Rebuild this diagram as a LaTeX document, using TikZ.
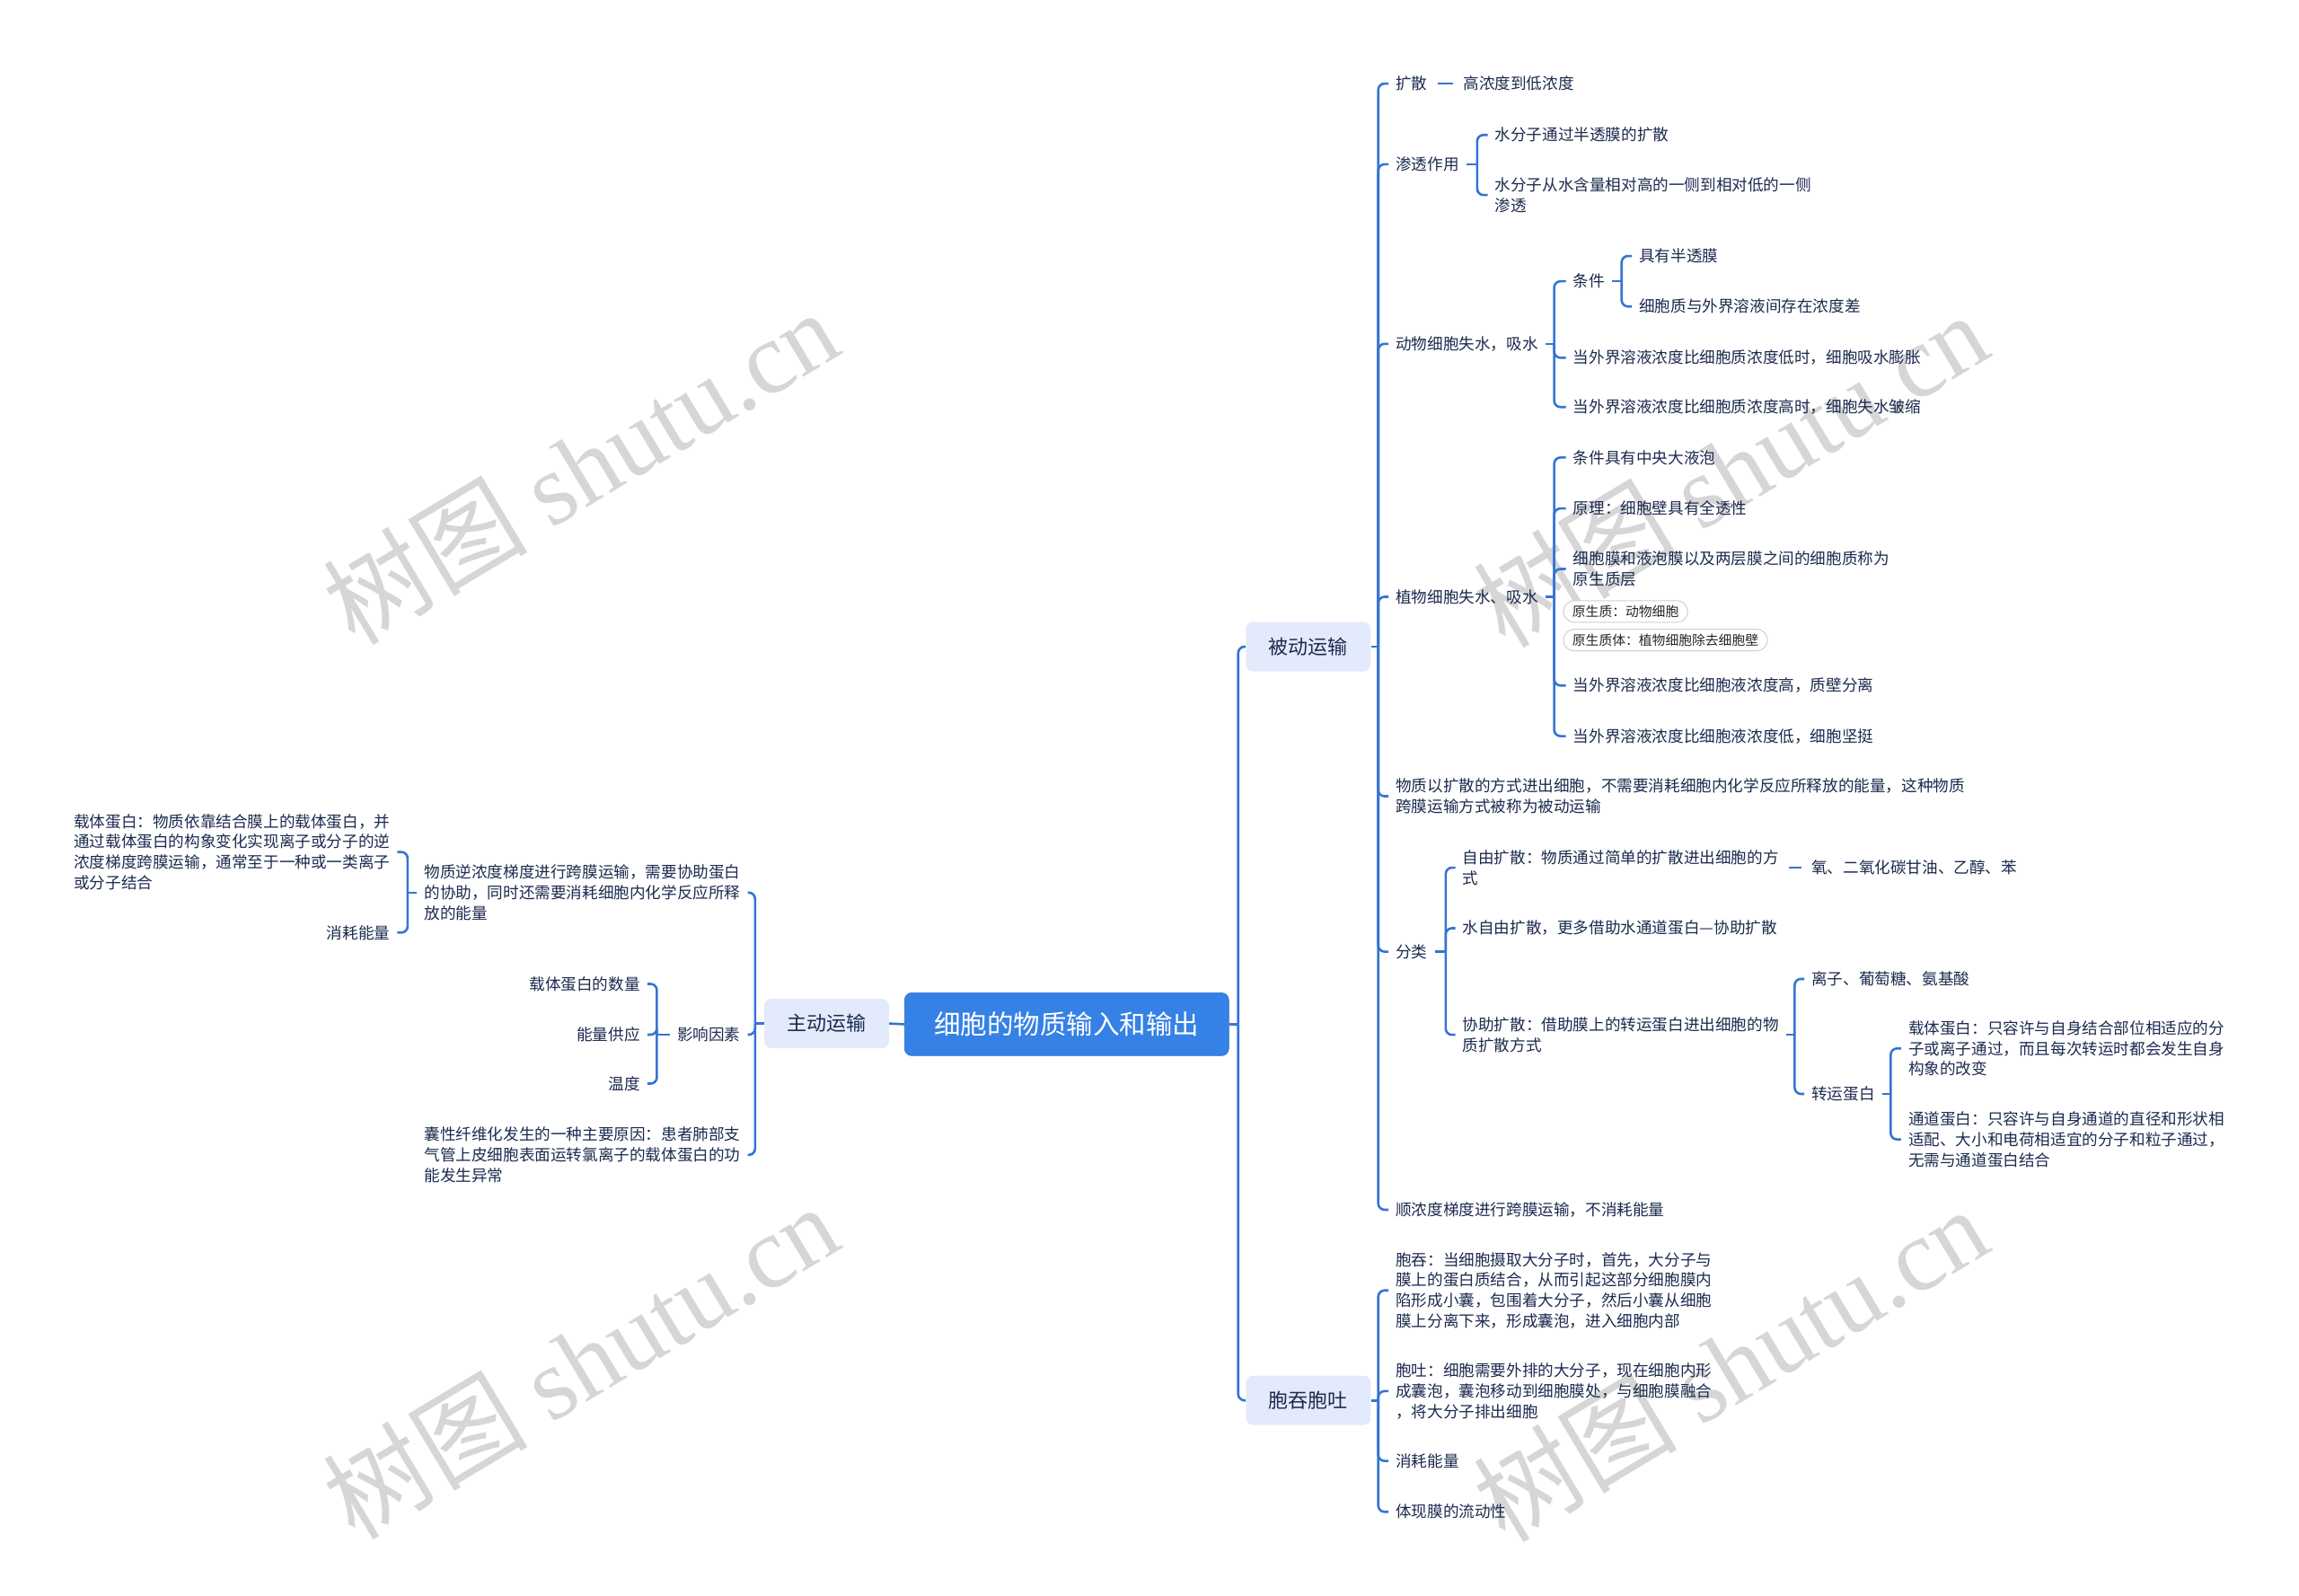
\documentclass[tikz,border=0pt]{standalone}
\usepackage{fontspec}
\setmainfont{Noto Sans CJK SC}
\newfontfamily\wmlatin{Liberation Serif}
\usepackage{xcolor}
\usepackage{tikz}
\usetikzlibrary{positioning,calc}

\definecolor{linkblue}{HTML}{3574D4}
\definecolor{rootblue}{HTML}{3581E6}
\definecolor{boxfill}{HTML}{E3EAFB}
\definecolor{txtnavy}{HTML}{1B2A4E}
\definecolor{pillgray}{HTML}{CFCFCF}
\definecolor{wmgray}{HTML}{D6D6D6}

\begin{document}
\begin{tikzpicture}[
    x=1.6327pt, y=-1.6327pt,
    txt/.style={inner xsep=8pt, inner ysep=2pt, text=txtnavy, align=left,
                font=\fontsize{17.6}{22.8}\selectfont},
    rt/.style={txt, anchor=west},
    lt/.style={txt, anchor=east},
    topbox/.style={fill=boxfill, rounded corners=8pt, text=txtnavy, inner sep=0pt,
                minimum width=139pt, minimum height=55pt, font=\fontsize{22}{26}\selectfont},
    rootbox/.style={fill=rootblue, draw=rootblue!85!black, line width=0.6pt, rounded corners=8pt,
                text=white, inner sep=0pt, minimum width=361pt, minimum height=70pt,
                font=\fontsize{29.5}{34}\selectfont},
    pill/.style={draw=pillgray, line width=1pt, rounded corners=12pt, fill=white, anchor=west,
                text=black!85, inner xsep=10pt, inner ysep=0pt, minimum height=24pt,
                font=\fontsize{14.8}{17}\selectfont},
    link/.style={draw=linkblue, line width=2.6pt, rounded corners=7pt},
    seg/.style={draw=linkblue, line width=2.6pt, shorten <=3pt, shorten >=3pt},
    wm/.style={text=wmgray, rotate=31, inner sep=0pt, font=\fontsize{114}{124}\selectfont}
]
\useasboundingbox (0,0) rectangle (1568,1088);

% ---- watermarks ----
\node[wm] (wm1) at (396,318)  {树图 {\wmlatin shutu.cn}};
\node[wm] (wm2) at (1180,320) {树图 {\wmlatin shutu.cn}};
\node[wm] (wm3) at (396,928)  {树图 {\wmlatin shutu.cn}};
\node[wm] (wm4) at (1180,930) {树图 {\wmlatin shutu.cn}};

% ---- root and first level ----
\node[rootbox] (root) at (727.5,698.5) {细胞的物质输入和输出};
\node[topbox] (zd) at (563.8,698) {主动运输};
\node[topbox] (bd) at (892.3,441) {被动运输};
\node[topbox] (tt) at (892.3,955) {胞吞胞吐};

\coordinate (rootj) at (844.5,698.5);
\draw[link] (root.east) -- (rootj);
\draw[link] (rootj) |- (bd.west);
\draw[link] (rootj) |- (tt.west);
\draw[link] (root.west) -- (zd.east);

% ---- passive transport ----
\node[rt] (ks)  at (947,57)      {扩散};
\node[rt] (ksa) at (993,57)      {高浓度到低浓度};
\node[rt] (st)  at (947,112)     {渗透作用};
\node[rt] (sta) at (1014.6,92)   {水分子通过半透膜的扩散};
\node[rt] (stb) at (1014.6,133)  {水分子从水含量相对高的一侧到相对低的一侧\\渗透};
\node[rt] (dw)  at (947,234.5)   {动物细胞失水，吸水};
\node[rt] (tj)  at (1068,191.8)  {条件};
\node[rt] (tja) at (1113,174.6)  {具有半透膜};
\node[rt] (tjb) at (1113,209)    {细胞质与外界溶液间存在浓度差};
\node[rt] (dwb) at (1068,244)    {当外界溶液浓度比细胞质浓度低时，细胞吸水膨胀};
\node[rt] (dwc) at (1068,277.6)  {当外界溶液浓度比细胞质浓度高时，细胞失水皱缩};
\node[rt] (zw)  at (947,407)     {植物细胞失水、吸水};
\node[rt] (zwa) at (1068,312)    {条件具有中央大液泡};
\node[rt] (zwb) at (1068,346.7)  {原理：细胞壁具有全透性};
\node[rt] (zwc) at (1068,388)    {细胞膜和液泡膜以及两层膜之间的细胞质称为\\原生质层};
\node[pill] (pl1) at (1066,417)  {原生质：动物细胞};
\node[pill] (pl2) at (1066,436.5) {原生质体：植物细胞除去细胞壁};
\node[rt] (zwd) at (1068,467.5)  {当外界溶液浓度比细胞液浓度高，质壁分离};
\node[rt] (zwe) at (1068,502)    {当外界溶液浓度比细胞液浓度低，细胞坚挺};
\node[rt] (dy)  at (947,543)     {物质以扩散的方式进出细胞，不需要消耗细胞内化学反应所释放的能量，这种物质\\跨膜运输方式被称为被动运输};
\node[rt] (fl)  at (947,649)     {分类};
\node[rt] (fla) at (992.6,591.7) {自由扩散：物质通过简单的扩散进出细胞的方\\式};
\node[rt] (flaa) at (1230.6,591.7) {氧、二氧化碳甘油、乙醇、苯};
\node[rt] (flb) at (992.6,633)   {水自由扩散，更多借助水通道蛋白—协助扩散};
\node[rt] (flc) at (992.6,705.7) {协助扩散：借助膜上的转运蛋白进出细胞的物\\质扩散方式};
\node[rt] (fca) at (1230.6,667.6) {离子、葡萄糖、氨基酸};
\node[rt] (fcb) at (1230.6,746)  {转运蛋白};
\node[rt] (fcba) at (1296.6,715) {载体蛋白：只容许与自身结合部位相适应的分\\子或离子通过，而且每次转运时都会发生自身\\构象的改变};
\node[rt] (fcbb) at (1296.6,777) {通道蛋白：只容许与自身通道的直径和形状相\\适配、大小和电荷相适宜的分子和粒子通过，\\无需与通道蛋白结合};
\node[rt] (sn)  at (947,825)     {顺浓度梯度进行跨膜运输，不消耗能量};

\coordinate (bdj) at (940,441);
\draw[link] (bd.east) -- (bdj);
\draw[link] (bdj) |- (ks.west);
\draw[link] (bdj) |- (st.west);
\draw[link] (bdj) |- (dw.west);
\draw[link] (bdj) |- (zw.west);
\draw[link] (bdj) |- (dy.west);
\draw[link] (bdj) |- (fl.west);
\draw[link] (bdj) |- (sn.west);
\draw[seg] (ks.east) -- (ksa.west);

\coordinate (stj) at (1007.5,112);
\draw[link] (st.east) -- (stj);
\draw[link] (stj) |- (sta.west);
\draw[link] (stj) |- (stb.west);

\coordinate (dwj) at (1060,234.5);
\draw[link] (dw.east) -- (dwj);
\draw[link] (dwj) |- (tj.west);
\draw[link] (dwj) |- (dwb.west);
\draw[link] (dwj) |- (dwc.west);
\coordinate (tjj) at (1106,191.8);
\draw[link] (tj.east) -- (tjj);
\draw[link] (tjj) |- (tja.west);
\draw[link] (tjj) |- (tjb.west);

\coordinate (zwj) at (1060,407);
\draw[link] (zw.east) -- (zwj);
\draw[link] (zwj) |- (zwa.west);
\draw[link] (zwj) |- (zwb.west);
\draw[link] (zwj) |- (zwc.west);
\draw[link] (zwj) |- (zwd.west);
\draw[link] (zwj) |- (zwe.west);

\coordinate (flj) at (986,649);
\draw[link] (fl.east) -- (flj);
\draw[link] (flj) |- (fla.west);
\draw[link] (flj) |- (flb.west);
\draw[link] (flj) |- (flc.west);
\draw[seg] (fla.east) -- (flaa.west);
\coordinate (fcj) at (1224,705.7);
\draw[link] (flc.east) -- (fcj);
\draw[link] (fcj) |- (fca.west);
\draw[link] (fcj) |- (fcb.west);
\coordinate (fbj) at (1289.5,746);
\draw[link] (fcb.east) -- (fbj);
\draw[link] (fbj) |- (fcba.west);
\draw[link] (fbj) |- (fcbb.west);

% ---- endocytosis / exocytosis ----
\node[rt] (tta) at (947,880)   {胞吞：当细胞摄取大分子时，首先，大分子与\\膜上的蛋白质结合，从而引起这部分细胞膜内\\陷形成小囊，包围着大分子，然后小囊从细胞\\膜上分离下来，形成囊泡，进入细胞内部};
\node[rt] (ttb) at (947,948.7) {胞吐：细胞需要外排的大分子，现在细胞内形\\成囊泡，囊泡移动到细胞膜处，与细胞膜融合\\，将大分子排出细胞};
\node[rt] (ttc) at (947,996.3) {消耗能量};
\node[rt] (ttd) at (947,1031)  {体现膜的流动性};

\coordinate (ttj) at (940,955);
\draw[link] (tt.east) -- (ttj);
\draw[link] (ttj) |- (tta.west);
\draw[link] (ttj) |- (ttb.west);
\draw[link] (ttj) |- (ttc.west);
\draw[link] (ttj) |- (ttd.west);

% ---- active transport ----
\node[lt] (nd)  at (510,608.7) {物质逆浓度梯度进行跨膜运输，需要协助蛋白\\的协助，同时还需要消耗细胞内化学反应所释\\放的能量};
\node[lt] (nda) at (271,581)   {载体蛋白：物质依靠结合膜上的载体蛋白，并\\通过载体蛋白的构象变化实现离子或分子的逆\\浓度梯度跨膜运输，通常至于一种或一类离子\\或分子结合};
\node[lt] (ndb) at (271,636)   {消耗能量};
\node[lt] (yx)  at (510,705.6) {影响因素};
\node[lt] (yxa) at (441.6,671) {载体蛋白的数量};
\node[lt] (yxb) at (441.6,705.6) {能量供应};
\node[lt] (yxc) at (441.6,739) {温度};
\node[lt] (nx)  at (510,787.6) {囊性纤维化发生的一种主要原因：患者肺部支\\气管上皮细胞表面运转氯离子的载体蛋白的功\\能发生异常};

\coordinate (zdj) at (515,698);
\draw[link] (zd.west) -- (zdj);
\draw[link] (zdj) |- (nd.east);
\draw[link] (zdj) |- (yx.east);
\draw[link] (zdj) |- (nx.east);
\coordinate (ndj) at (278,608.7);
\draw[link] (nd.west) -- (ndj);
\draw[link] (ndj) |- (nda.east);
\draw[link] (ndj) |- (ndb.east);
\coordinate (yxj) at (448,705.6);
\draw[link] (yx.west) -- (yxj);
\draw[link] (yxj) |- (yxa.east);
\draw[link] (yxj) |- (yxb.east);
\draw[link] (yxj) |- (yxc.east);

\end{tikzpicture}
\end{document}
